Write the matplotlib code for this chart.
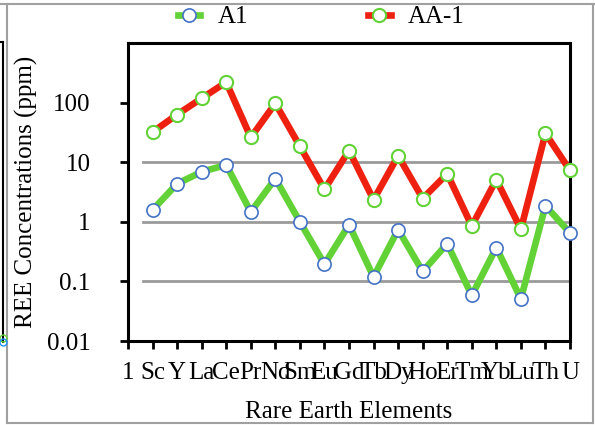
import matplotlib
matplotlib.use("Agg")
from matplotlib import pyplot as plt
from matplotlib.lines import Line2D
import numpy as np

# category labels (the first slot "1" holds no data)
elements = ["1", "Sc", "Y", "La", "Ce", "Pr", "Nd", "Sm", "Eu", "Gd", "Tb",
            "Dy", "Ho", "Er", "Tm", "Yb", "Lu", "Th", "U"]

# REE concentrations (ppm), Sc..U
a1 = [1.58, 4.35, 6.9, 9.0, 1.46, 5.3, 1.0, 0.195, 0.89, 0.119, 0.74,
      0.147, 0.43, 0.058, 0.37, 0.051, 1.86, 0.65]
aa1 = [32, 63, 118, 220, 26, 97, 18.5, 3.5, 15.7, 2.34, 12.8,
       2.46, 6.4, 0.85, 5.1, 0.75, 30.4, 7.3]

y_ticks = [0.01, 0.1, 1, 10, 100]
y_tick_labels = ["0.01", "0.1", "1", "10", "100"]
grid_values = [0.1, 1, 10]

plt.rcParams['font.family'] = ['Liberation Serif', 'DejaVu Serif']
plt.rcParams['font.size'] = 18

W, H = 595, 425
fig = plt.figure(figsize=(W / 100, H / 100), dpi=100)
ax = fig.add_axes([128 / W, 1 - 341 / H, 442 / W, 298 / H])

x = np.arange(len(elements))
xs = x[1:]

green = "#62D236"
red = "#EE2010"
blue = "#4472C4"

for v in grid_values:
    ax.axhline(v, xmin=0.034, xmax=1, color="#9a9a9a", lw=2, zorder=1)

ax.plot(xs, a1, color=green, lw=4.8, marker="o", ms=9.5,
        mfc="white", mec=blue, mew=1.2, clip_on=False, zorder=3, label="A1")
ax.plot(xs, aa1, color=red, lw=4.8, marker="o", ms=9.5,
        mfc="white", mec=green, mew=1.5, clip_on=False, zorder=4, label="AA-1")

ax.set_yscale("log")
ax.set_ylim(0.01, 1000)
ax.set_xlim(0, len(elements) - 1)
ax.set_yticks(y_ticks)
ax.set_yticklabels(y_tick_labels)
ax.minorticks_off()
ax.set_xticks(x)
ax.set_xticklabels(elements)

for s in ax.spines.values():
    s.set_linewidth(2.2)
ax.tick_params(axis="y", direction="out", length=6, width=2, pad=21)
ax.tick_params(axis="x", direction="out", length=6, width=2, pad=9)

ax.set_ylabel("REE Concentrations (ppm)", fontsize=18, labelpad=6)
ax.set_xlabel("Rare Earth Elements", fontsize=18, labelpad=12)

fig.legend(loc="center", bbox_to_anchor=(0.54, 1 - 17 / H), ncol=2,
           frameon=False, handlelength=0.9, handletextpad=0.7,
           columnspacing=4.8, fontsize=18)

# gray frame of the screenshot
frame = dict(color="#a0a0a0", lw=1.5, transform=fig.transFigure)
fig.add_artist(Line2D([0, 1], [1 - 4 / H, 1 - 4 / H], **frame))
fig.add_artist(Line2D([7 / W, 7 / W], [1 - 4 / H, 1 - 423 / H], **frame))
fig.add_artist(Line2D([593 / W, 593 / W], [1 - 4 / H, 1 - 423 / H], **frame))
fig.add_artist(Line2D([7 / W, 593 / W], [1 - 423 / H, 1 - 423 / H], **frame))

# remnant of the neighbouring panel at the left edge
fig.add_artist(Line2D([3 / W, 3 / W], [1 - 42 / H, 1 - 342 / H], color="black",
                      lw=1.5, transform=fig.transFigure))
fig.add_artist(Line2D([0, 3 / W], [1 - 42 / H, 1 - 42 / H], color="black",
                      lw=1.5, transform=fig.transFigure))
fig.add_artist(Line2D([3 / W], [1 - 338 / H], marker="o", ms=5, mfc="none",
                      mec=green, transform=fig.transFigure))
fig.add_artist(Line2D([3 / W], [1 - 342 / H], marker="o", ms=5, mfc="none",
                      mec="#1E90FF", transform=fig.transFigure))

fig.savefig("out.png", dpi=100)
